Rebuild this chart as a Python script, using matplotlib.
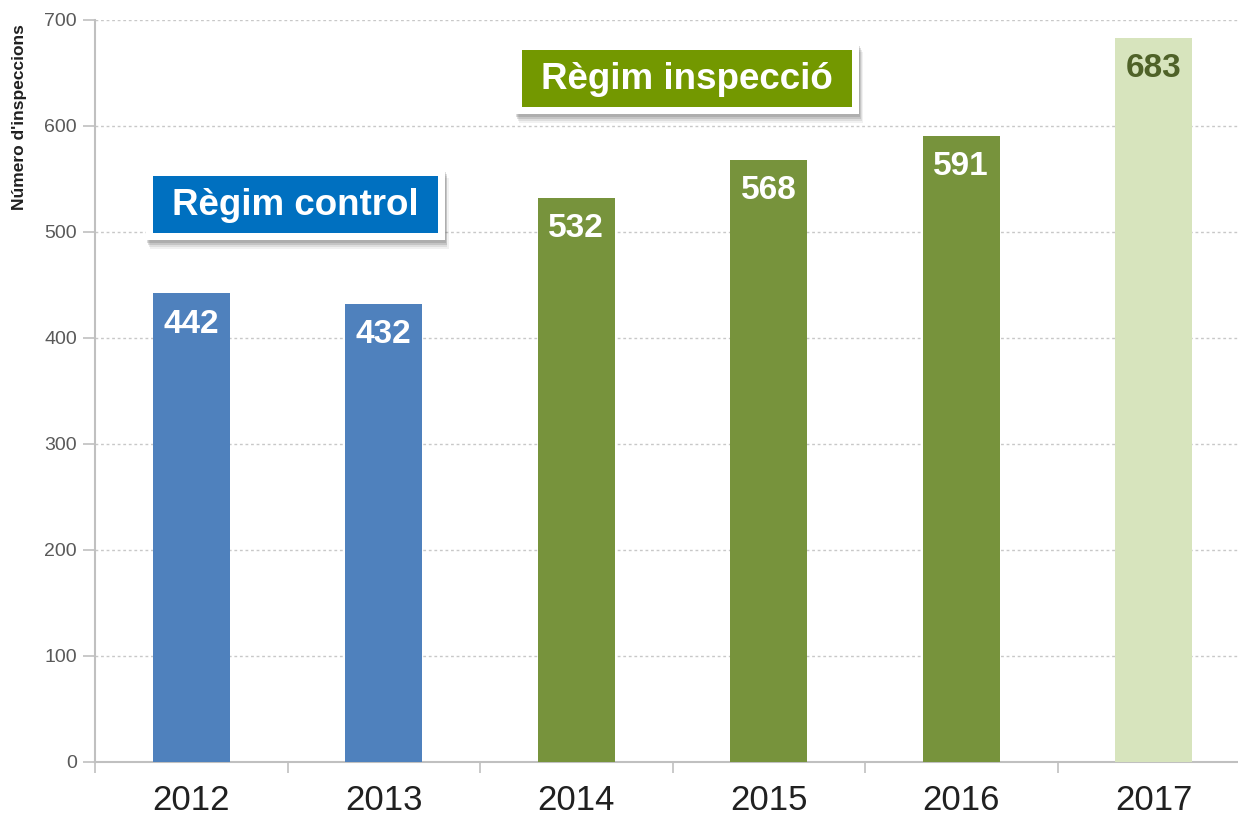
import matplotlib.pyplot as plt
from matplotlib.patches import Rectangle

plt.rcParams['font.family'] = ['Liberation Sans', 'DejaVu Sans']

# data
years = ['2012', '2013', '2014', '2015', '2016', '2017']
inspections = [442, 432, 532, 568, 591, 683]
bar_colors = ['#4F81BD', '#4F81BD', '#77933C', '#77933C', '#77933C', '#D7E4BD']
label_colors = ['white', 'white', 'white', 'white', 'white', '#4F6228']
y_ticks = [0, 100, 200, 300, 400, 500, 600, 700]

W, H = 1238, 818
fig = plt.figure(figsize=(W / 100, H / 100), dpi=100)
ax = fig.add_axes([95 / W, 56 / H, 1155 / W, 742 / H])

x = list(range(len(years)))
ax.bar(x, inspections, width=0.4, color=bar_colors, zorder=3)

for i, v in enumerate(inspections):
    ax.annotate(str(v), xy=(i, v), xytext=(0, -22), textcoords='offset points',
                ha='center', va='center', fontsize=24, fontweight='bold',
                color=label_colors[i], zorder=4)

ax.set_xlim(-0.5, len(years) - 0.5)
ax.set_ylim(0, 700)
ax.set_yticks(y_ticks)
ax.set_yticklabels([str(t) for t in y_ticks], fontsize=14, color='#595959')
ax.yaxis.grid(True, linestyle=(0, (2, 2)), color='#C8C8C8', linewidth=1, zorder=0)

# category ticks at the boundaries, labels in the middle
ax.set_xticks([i - 0.5 for i in range(len(years) + 1)])
ax.set_xticklabels([])
ax.set_xticks(x, minor=True)
ax.set_xticklabels(years, minor=True, fontsize=25, color='#202020')
ax.tick_params(axis='x', which='minor', length=0, pad=16)
ax.tick_params(axis='x', which='major', length=8, color='#C0C0C0', width=1.2)
ax.tick_params(axis='y', length=9, color='#C0C0C0', width=1.2, pad=4)

for s in ['top', 'right']:
    ax.spines[s].set_visible(False)
for s in ['left', 'bottom']:
    ax.spines[s].set_color('#C0C0C0')
    ax.spines[s].set_linewidth(1.5)

fig.text(20 / W, 1 - 117 / H, "Número d'inspeccions", rotation=90, ha='center', va='center',
         fontsize=12.5, fontweight='bold', color='#202020')


def label_box(x0, y0, x1, y1, color, text):
    # pixel coords from top-left; white frame with soft shadow, coloured box, text
    def r(a, b, c, d, **kw):
        fig.add_artist(Rectangle((a / W, 1 - d / H), (c - a) / W, (d - b) / H,
                                 transform=fig.transFigure, **kw))
    for k, al in [(7, 0.08), (5, 0.12), (3, 0.18), (1, 0.2)]:
        r(x0 - 7 + k / 2, y0 - 7 + k + 2, x1 + 7 + k / 2, y1 + 7 + k + 2,
          fc='#555555', ec='none', alpha=al, zorder=5)
    r(x0 - 7, y0 - 7, x1 + 7, y1 + 7, fc='white', ec='none', zorder=6)
    r(x0, y0, x1, y1, fc=color, ec='none', zorder=7)
    fig.text((x0 + x1) / 2 / W, 1 - ((y0 + y1) / 2 + 1) / H, text, ha='center', va='center',
             fontsize=26.5, fontweight='bold', color='white', zorder=8)


label_box(153, 176, 438, 233, '#0070C0', 'Règim control')
label_box(522, 50, 852, 107, '#739800', 'Règim inspecció')

fig.savefig('out.png', dpi=100)
